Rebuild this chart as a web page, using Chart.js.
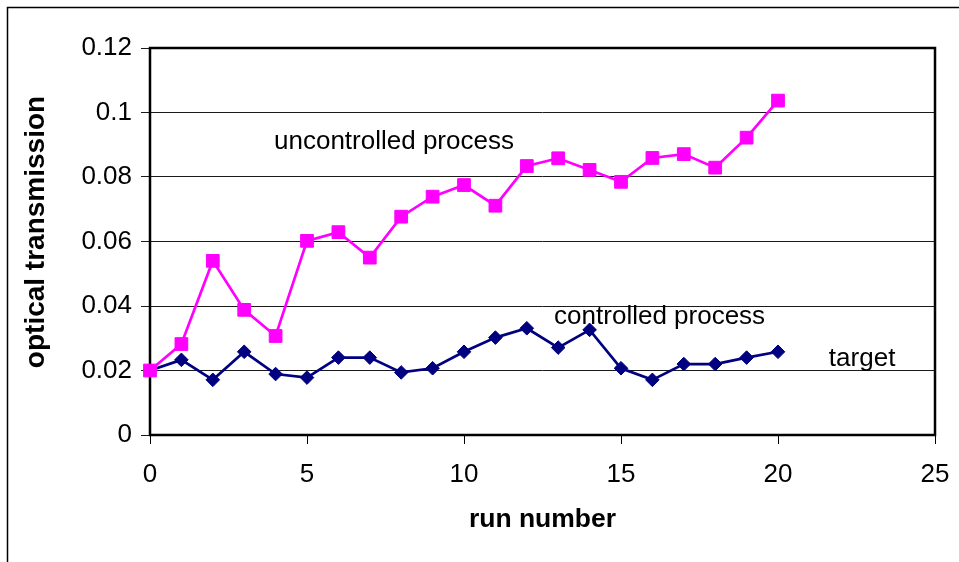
<!DOCTYPE html>
<html>
<head>
<meta charset="utf-8">
<script src="https://cdn.jsdelivr.net/npm/chart.js@4/dist/chart.umd.min.js"></script>
<style>
  html, body { margin: 0; padding: 0; background: #fff; }
  #wrap { width: 959px; height: 562px; }
</style>
</head>
<body>
<div id="wrap"><canvas id="c" width="959" height="562"></canvas></div>
<script>
// Run numbers and measured optical transmission per run
const runs = [0, 1, 2, 3, 4, 5, 6, 7, 8, 9, 10, 11, 12, 13, 14, 15, 16, 17, 18, 19, 20];
const uncontrolled = [0.0200, 0.0282, 0.0540, 0.0388, 0.0307, 0.0602, 0.0629, 0.0550, 0.0677, 0.0739,
                      0.0775, 0.0711, 0.0834, 0.0858, 0.0822, 0.0785, 0.0859, 0.0871, 0.0829, 0.0922, 0.1037];
const controlled   = [0.0200, 0.0233, 0.0171, 0.0258, 0.0189, 0.0178, 0.0240, 0.0240, 0.0194, 0.0207,
                      0.0258, 0.0302, 0.0331, 0.0271, 0.0326, 0.0207, 0.0171, 0.0220, 0.0220, 0.0240, 0.0258];

const seriesNames = ['uncontrolled process', 'controlled process'];
const targetLabel = 'target';

const yTickValues = [0, 0.02, 0.04, 0.06, 0.08, 0.1, 0.12];
const yTickLabels = ['0', '0.02', '0.04', '0.06', '0.08', '0.1', '0.12'];
const xTickValues = [0, 5, 10, 15, 20, 25];
const xTickLabels = ['0', '5', '10', '15', '20', '25'];

const xTitle = 'run number';
const yTitle = 'optical transmission';

const FONT = '"Liberation Sans", Arial, sans-serif';

const toPoints = (ys) => runs.map((x, i) => ({ x: x, y: ys[i] }));

// Frame, plot border, in-plot labels and the vertical axis title
const decorations = {
  id: 'decorations',
  beforeDraw(chart) {
    const ctx = chart.ctx;
    ctx.save();
    ctx.fillStyle = '#fff';
    ctx.fillRect(0, 0, chart.width, chart.height);
    ctx.strokeStyle = '#000';
    ctx.lineWidth = 1.5;
    ctx.strokeRect(7.5, 7.5, chart.width + 40, chart.height + 40);
    ctx.restore();
  },
  beforeDatasetsDraw(chart) {
    const ctx = chart.ctx;
    const a = chart.chartArea;
    const xs = chart.scales.x, ys = chart.scales.y;
    ctx.save();
    ctx.strokeStyle = '#000';
    ctx.lineWidth = 2.5;
    ctx.strokeRect(a.left, a.top, a.right - a.left, a.bottom - a.top);

    ctx.fillStyle = '#000';
    ctx.font = '26px ' + FONT;
    ctx.textAlign = 'left';
    ctx.textBaseline = 'alphabetic';
    ctx.fillText(seriesNames[0], xs.getPixelForValue(3.95), ys.getPixelForValue(0.0887));
    ctx.fillText(seriesNames[1], xs.getPixelForValue(12.87), ys.getPixelForValue(0.0344));
    ctx.fillText(targetLabel, xs.getPixelForValue(21.62), ys.getPixelForValue(0.0214));
    ctx.restore();
  },
  afterDraw(chart) {
    const ctx = chart.ctx;
    ctx.save();
    ctx.translate(36, 232);
    ctx.rotate(-Math.PI / 2);
    ctx.fillStyle = '#000';
    ctx.font = 'bold 28px ' + FONT;
    ctx.textAlign = 'center';
    ctx.textBaseline = 'middle';
    ctx.fillText(yTitle, 0, 0);
    ctx.restore();
  }
};

new Chart(document.getElementById('c'), {
  type: 'line',
  data: {
    datasets: [
      {
        label: seriesNames[0],
        data: toPoints(uncontrolled),
        borderColor: '#FF00FF',
        backgroundColor: '#FF00FF',
        borderWidth: 2.7,
        pointStyle: 'rect',
        pointRadius: 9,
        pointBorderWidth: 1,
        pointBorderColor: '#FF00FF',
        pointBackgroundColor: '#FF00FF',
        tension: 0,
        clip: false
      },
      {
        label: seriesNames[1],
        data: toPoints(controlled),
        borderColor: '#000080',
        backgroundColor: '#000080',
        borderWidth: 2.7,
        pointStyle: 'rectRot',
        pointRadius: 6.8,
        pointBorderWidth: 1,
        pointBorderColor: '#000080',
        pointBackgroundColor: '#000080',
        tension: 0,
        clip: false
      }
    ]
  },
  options: {
    responsive: false,
    animation: false,
    devicePixelRatio: 1,
    layout: { padding: { left: 0, top: 48, right: 24, bottom: 0 } },
    plugins: {
      legend: { display: false },
      tooltip: { enabled: false },
      title: { display: false }
    },
    scales: {
      x: {
        type: 'linear',
        min: 0,
        max: 25,
        afterBuildTicks: (s) => { s.ticks = xTickValues.map(v => ({ value: v })); },
        afterFit: (s) => { s.height = 127; s.paddingLeft = 0; s.paddingRight = 0; },
        ticks: {
          autoSkip: false,
          maxRotation: 0,
          padding: 15,
          color: '#000',
          font: { family: FONT, size: 26 },
          callback: (v, i) => xTickLabels[i]
        },
        grid: { drawOnChartArea: false, drawTicks: true, tickLength: 9, color: '#000', lineWidth: 1 },
        border: { display: false },
        title: {
          display: true,
          text: xTitle,
          color: '#000',
          font: { family: FONT, size: 26.5, weight: 'bold' },
          padding: { top: 0, bottom: 26 }
        }
      },
      y: {
        type: 'linear',
        min: 0,
        max: 0.12,
        afterBuildTicks: (s) => { s.ticks = yTickValues.map(v => ({ value: v })); },
        afterFit: (s) => { s.width = 150; s.paddingTop = 0; s.paddingBottom = 0; },
        ticks: {
          autoSkip: false,
          padding: 9,
          color: '#000',
          font: { family: FONT, size: 26 },
          callback: (v, i) => yTickLabels[i]
        },
        grid: { drawOnChartArea: true, drawTicks: true, tickLength: 9, color: '#1a1a1a', lineWidth: 1 },
        border: { display: false }
      }
    }
  },
  plugins: [decorations]
});
</script>
</body>
</html>
